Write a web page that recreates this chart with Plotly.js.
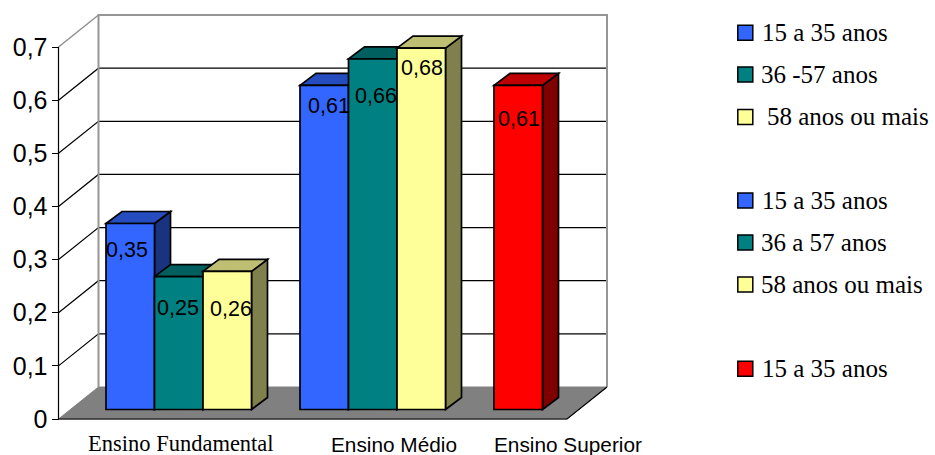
<!DOCTYPE html>
<html>
<head>
<meta charset="utf-8">
<script src="https://cdn.plot.ly/plotly-3.0.1.min.js"></script>
<style>html,body{margin:0;padding:0;background:#fff}</style>
</head>
<body>
<div id="chart" style="width:935px;height:455px"></div>
<script>
// Chart data
const categories = ['Ensino Fundamental', 'Ensino Médio', 'Ensino Superior'];
const fundamentalValues = [0.35, 0.25, 0.26];
const medioValues = [0.61, 0.66, 0.68];
const superiorValues = [0.61];
const yTickValues = [0, 0.1, 0.2, 0.3, 0.4, 0.5, 0.6, 0.7];
const yTickLabels = ['0', '0,1', '0,2', '0,3', '0,4', '0,5', '0,6', '0,7'];
const legendLabels = ['15 a 35 anos', '36 -57 anos', '58 anos ou mais',
                      '15 a 35 anos', '36 a 57 anos', '58 anos ou mais', '15 a 35 anos'];

// Scale: one x unit is a bar slot, one y unit is the value axis
const W = 935, H = 455;
const PX_PER_SLOT = 48.5, PX_PER_VALUE = 531.4;
const X_ORIGIN = 106, Y_ORIGIN = 419;
const toX = px => (px - X_ORIGIN) / PX_PER_SLOT;
const toY = py => (Y_ORIGIN - py) / PX_PER_VALUE;

// Oblique projection: wall depth and bar depth
const WALL_DX = 40 / PX_PER_SLOT, WALL_DY = 32 / PX_PER_VALUE;
const BAR_DX = 16 / PX_PER_SLOT, BAR_DY = 12 / PX_PER_VALUE;
const BAR_BASE = 9.5 / PX_PER_VALUE;
const FRONT_LEFT = toX(58.5), FRONT_RIGHT = toX(567);
const SLOTS_PER_GROUP = 4;

const GREY = '#969696';
const poly = pts => 'M' + pts.map(p => p[0] + ',' + p[1]).join('L') + 'Z';
const open = pts => 'M' + pts.map(p => p[0] + ',' + p[1]).join('L');
const shape = (path, fill, color, width) => ({
  type: 'path', path, xref: 'x', yref: 'y', layer: 'between',
  fillcolor: fill || 'rgba(0,0,0,0)',
  line: {color: color || 'rgba(0,0,0,0)', width: width || 0}
});

function shade(rgb, k) {
  return 'rgb(' + rgb.map(c => Math.round(c * k)).join(',') + ')';
}

const BLUE = [51, 102, 255], TEAL = [0, 128, 128], YELLOW = [255, 255, 153], RED = [255, 0, 0];

const groups = [
  {values: fundamentalValues, colors: [BLUE, TEAL, YELLOW]},
  {values: medioValues, colors: [BLUE, TEAL, YELLOW]},
  {values: superiorValues, colors: [RED]}
];

// Room: floor, back wall outline, gridlines running along side and back walls
const shapes = [];
shapes.push(shape(poly([
  [FRONT_LEFT, 0], [FRONT_RIGHT, 0],
  [FRONT_RIGHT + WALL_DX, WALL_DY], [FRONT_LEFT + WALL_DX, WALL_DY]
]), '#808080', '#808080', 1));
yTickValues.slice(1, -1).forEach(v => {
  shapes.push(shape(open([
    [FRONT_LEFT, v], [FRONT_LEFT + WALL_DX, v + WALL_DY], [FRONT_RIGHT + WALL_DX, v + WALL_DY]
  ]), null, '#000', 1.2));
});
const topValue = yTickValues[yTickValues.length - 1];
shapes.push(shape(open([
  [FRONT_LEFT, topValue], [FRONT_LEFT + WALL_DX, topValue + WALL_DY]
]), null, '#8c8c8c', 1.5));
shapes.push(shape(open([
  [FRONT_LEFT + WALL_DX, WALL_DY], [FRONT_LEFT + WALL_DX, topValue + WALL_DY],
  [FRONT_RIGHT + WALL_DX, topValue + WALL_DY], [FRONT_RIGHT + WALL_DX, WALL_DY]
]), null, GREY, 2));
shapes.push(shape(open([
  [FRONT_LEFT, topValue], [FRONT_LEFT, 0], [FRONT_RIGHT, 0], [FRONT_RIGHT + WALL_DX, WALL_DY]
]), null, '#000', 1.2));

// Bars: true bar traces for the fronts, side and top faces derived from the same values
const traces = [];
const annotations = [];
const labelNudges = [[-3, 26], [-1, 31.5], [3.5, 37.2], [5, 21], [3, 37.7], [1, 19.6], [1, 33.7]];
let barIndex = 0;
groups.forEach((g, gi) => {
  g.values.forEach((v, si) => {
    const x0 = gi * SLOTS_PER_GROUP + si, x1 = x0 + 1, top = BAR_BASE + v;
    shapes.push(shape(poly([
      [x1, BAR_BASE], [x1 + BAR_DX, BAR_BASE + BAR_DY], [x1 + BAR_DX, top + BAR_DY], [x1, top]
    ]), shade(g.colors[si], 0.5), '#000', 1.7));
    shapes.push(shape(poly([
      [x0, top], [x1, top], [x1 + BAR_DX, top + BAR_DY], [x0 + BAR_DX, top + BAR_DY]
    ]), shade(g.colors[si], 0.75), '#000', 1.7));
    traces.push({
      type: 'bar', x: [x0 + 0.5], y: [v], base: [BAR_BASE], width: [1],
      name: legendLabels[barIndex] + ' - ' + categories[gi],
      showlegend: false, hoverinfo: 'skip',
      marker: {color: shade(g.colors[si], 1), line: {color: '#000', width: 1.7}}
    });
    const nudge = labelNudges[barIndex];
    annotations.push({
      xref: 'x', yref: 'y', x: x0 + 0.5, y: top, xshift: nudge[0], yshift: -nudge[1],
      text: String(v).replace('.', ','), showarrow: false, xanchor: 'center', yanchor: 'middle',
      font: {family: 'Liberation Sans', size: 21.5, color: '#000'}
    });
    barIndex++;
  });
});

// Category labels below the floor
const categoryStyles = [
  {cx: 180.5, cy: 443, family: 'Liberation Serif', size: 22.5},
  {cx: 393.7, cy: 444, family: 'Liberation Sans', size: 20.8},
  {cx: 567.5, cy: 444, family: 'Liberation Sans', size: 20.8}
];
categories.forEach((c, i) => {
  annotations.push({
    xref: 'paper', yref: 'paper', x: categoryStyles[i].cx / W, y: 1 - categoryStyles[i].cy / H,
    text: c, showarrow: false, xanchor: 'center', yanchor: 'middle',
    font: {family: categoryStyles[i].family, size: categoryStyles[i].size, color: '#000'}
  });
});

// Hand-placed key, with blank rows separating the three groups
const keyRows = [32.8, 74.5, 117, 200.5, 242.5, 284.5, 368.7];
const keyTextX = [762, 761, 767, 762, 761, 761, 762];
const keyColors = [BLUE, TEAL, YELLOW, BLUE, TEAL, YELLOW, RED];
legendLabels.forEach((label, i) => {
  shapes.push({
    type: 'rect', xref: 'paper', yref: 'paper', layer: 'above',
    x0: 737.8 / W, x1: 752.8 / W, y0: 1 - (keyRows[i] + 7.5) / H, y1: 1 - (keyRows[i] - 7.5) / H,
    fillcolor: shade(keyColors[i], 1), line: {color: '#000', width: 1.5}
  });
  annotations.push({
    xref: 'paper', yref: 'paper', x: keyTextX[i] / W, y: 1 - keyRows[i] / H,
    text: label, showarrow: false, xanchor: 'left', yanchor: 'middle', xshift: -2,
    font: {family: 'Liberation Serif', size: 25, color: '#000'}
  });
});

const layout = {
  width: W, height: H, autosize: false,
  margin: {l: 0, r: 0, t: 0, b: 0, pad: 0, autoexpand: false},
  paper_bgcolor: '#fff', plot_bgcolor: 'rgba(0,0,0,0)',
  barmode: 'overlay', showlegend: false,
  xaxis: {
    domain: [50 / W, 612 / W], range: [toX(50), toX(612)], visible: false, fixedrange: true
  },
  yaxis: {
    domain: [1 - 425 / H, 1 - 10 / H], range: [toY(425), toY(10)],
    anchor: 'free', position: 58.5 / W, side: 'left',
    tickmode: 'array', tickvals: yTickValues, ticktext: yTickLabels,
    ticks: 'outside', ticklen: 7, tickwidth: 1, tickcolor: '#000', ticklabelstandoff: -1,
    tickfont: {family: 'Liberation Sans', size: 25, color: '#000'},
    showgrid: false, zeroline: false, showline: false, fixedrange: true
  },
  shapes, annotations
};

Plotly.newPlot('chart', traces, layout, {displayModeBar: false, staticPlot: true});
</script>
</body>
</html>
